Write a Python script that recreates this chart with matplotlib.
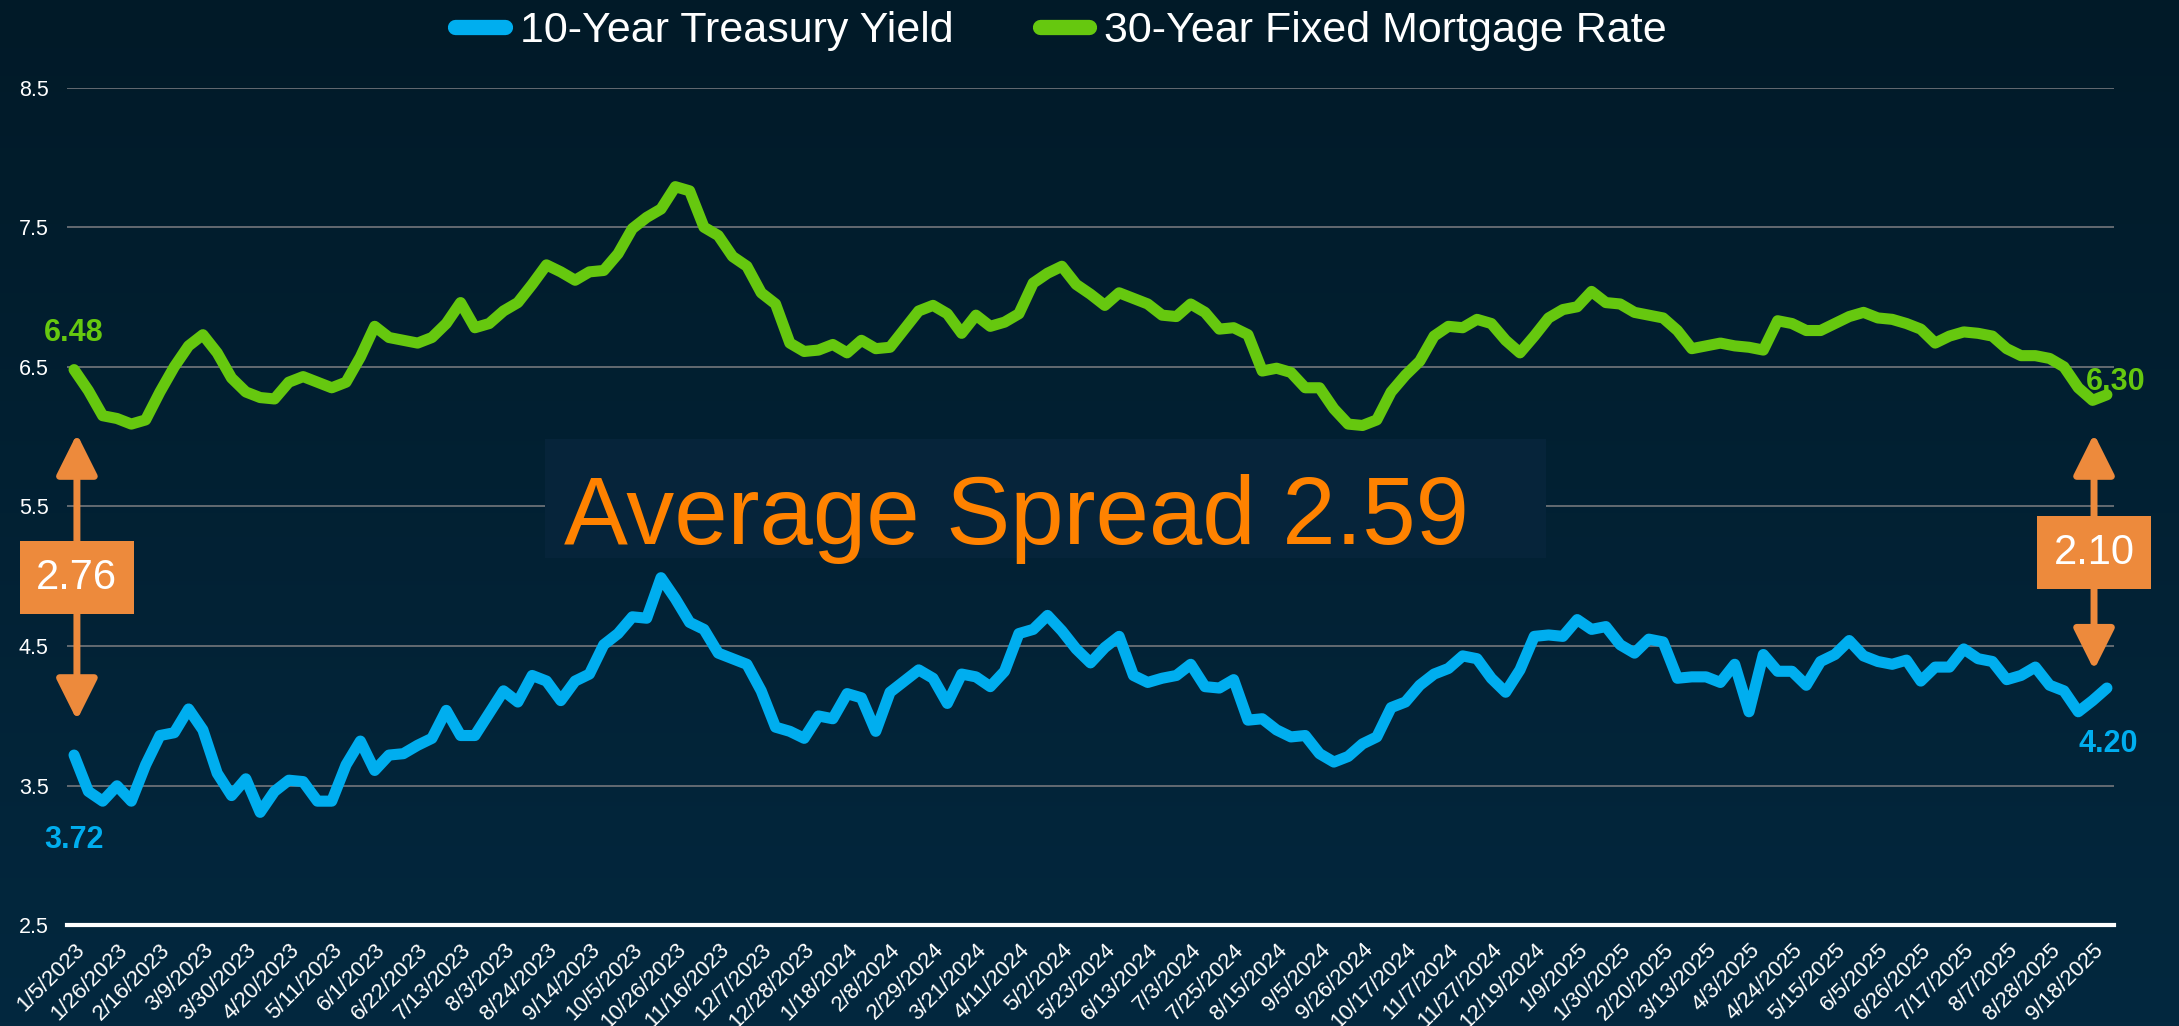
import numpy as np
import matplotlib
matplotlib.use("Agg")
import matplotlib.pyplot as plt
from matplotlib.patches import Rectangle, FancyArrowPatch

plt.rcParams["font.family"] = ["Liberation Sans", "DejaVu Sans"]

# weekly values, 1/5/2023 .. 9/25/2025
mortgage = [
    6.48, 6.33, 6.15, 6.13, 6.09, 6.12, 6.32, 6.50, 6.65, 6.73, 6.60, 6.42, 6.32,
    6.28, 6.27, 6.39, 6.43, 6.39, 6.35, 6.39, 6.57, 6.79, 6.71, 6.69, 6.67, 6.71,
    6.81, 6.96, 6.78, 6.81, 6.90, 6.96, 7.09, 7.23, 7.18, 7.12, 7.18, 7.19, 7.31,
    7.49, 7.57, 7.63, 7.79, 7.76, 7.50, 7.44, 7.29, 7.22, 7.03, 6.95, 6.67, 6.61,
    6.62, 6.66, 6.60, 6.69, 6.63, 6.64, 6.77, 6.90, 6.94, 6.88, 6.74, 6.87, 6.79,
    6.82, 6.88, 7.10, 7.17, 7.22, 7.09, 7.02, 6.94, 7.03, 6.99, 6.95, 6.87, 6.86,
    6.95, 6.89, 6.77, 6.78, 6.73, 6.47, 6.49, 6.46, 6.35, 6.35, 6.20, 6.09, 6.08,
    6.12, 6.32, 6.44, 6.54, 6.72, 6.79, 6.78, 6.84, 6.81, 6.69, 6.60, 6.72, 6.85,
    6.91, 6.93, 7.04, 6.96, 6.95, 6.89, 6.87, 6.85, 6.76, 6.63, 6.65, 6.67, 6.65,
    6.64, 6.62, 6.83, 6.81, 6.76, 6.76, 6.81, 6.86, 6.89, 6.85, 6.84, 6.81, 6.77,
    6.67, 6.72, 6.75, 6.74, 6.72, 6.63, 6.58, 6.58, 6.56, 6.50, 6.35, 6.26, 6.30,
]

treasury = [
    3.72, 3.46, 3.39, 3.50, 3.39, 3.65, 3.86, 3.88, 4.05, 3.90, 3.59, 3.43, 3.55,
    3.31, 3.46, 3.54, 3.53, 3.39, 3.39, 3.65, 3.82, 3.61, 3.72, 3.73, 3.79, 3.84,
    4.04, 3.86, 3.86, 4.02, 4.18, 4.10, 4.29, 4.25, 4.11, 4.25, 4.30, 4.51, 4.59,
    4.71, 4.70, 4.99, 4.84, 4.67, 4.62, 4.45, 4.41, 4.37, 4.18, 3.92, 3.89, 3.84,
    4.00, 3.98, 4.16, 4.13, 3.89, 4.17, 4.25, 4.33, 4.27, 4.09, 4.30, 4.28, 4.21,
    4.32, 4.59, 4.62, 4.72, 4.61, 4.48, 4.38, 4.49, 4.57, 4.29, 4.24, 4.27, 4.29,
    4.37, 4.21, 4.20, 4.26, 3.97, 3.98, 3.90, 3.85, 3.86, 3.73, 3.67, 3.71, 3.80,
    3.85, 4.06, 4.10, 4.22, 4.30, 4.34, 4.43, 4.41, 4.27, 4.17, 4.33, 4.57, 4.58,
    4.57, 4.69, 4.62, 4.64, 4.51, 4.45, 4.55, 4.53, 4.27, 4.28, 4.28, 4.24, 4.37,
    4.03, 4.44, 4.32, 4.32, 4.22, 4.39, 4.44, 4.54, 4.43, 4.39, 4.37, 4.40, 4.25,
    4.35, 4.35, 4.48, 4.41, 4.39, 4.26, 4.29, 4.35, 4.22, 4.18, 4.03, 4.11, 4.20,
]

# every third week gets a label
tick_labels = [
    "1/5/2023", "1/26/2023", "2/16/2023", "3/9/2023", "3/30/2023", "4/20/2023",
    "5/11/2023", "6/1/2023", "6/22/2023", "7/13/2023", "8/3/2023", "8/24/2023",
    "9/14/2023", "10/5/2023", "10/26/2023", "11/16/2023", "12/7/2023", "12/28/2023",
    "1/18/2024", "2/8/2024", "2/29/2024", "3/21/2024", "4/11/2024", "5/2/2024",
    "5/23/2024", "6/13/2024", "7/3/2024", "7/25/2024", "8/15/2024", "9/5/2024",
    "9/26/2024", "10/17/2024", "11/7/2024", "11/27/2024", "12/19/2024", "1/9/2025",
    "1/30/2025", "2/20/2025", "3/13/2025", "4/3/2025", "4/24/2025", "5/15/2025",
    "6/5/2025", "6/26/2025", "7/17/2025", "8/7/2025", "8/28/2025", "9/18/2025",
]

spread_start = 2.76
spread_end = 2.10
spread_avg = 2.59

blue = "#00aeef"
green = "#66c80f"
orange = "#ed8a3c"
text_orange = "#ff8200"

fig = plt.figure(figsize=(21.79, 10.26), dpi=100)

# background gradient
bg = fig.add_axes([0, 0, 1, 1], zorder=-5)
grad = np.linspace(0, 1, 256).reshape(-1, 1)
cmap = matplotlib.colors.LinearSegmentedColormap.from_list("bg", ["#011a28", "#03283f"])
bg.imshow(grad, aspect="auto", cmap=cmap, extent=[0, 1, 0, 1], origin="upper")
bg.axis("off")

ax = fig.add_axes([0.0307, 0.098, 0.9395, 0.8167])
ax.set_facecolor("none")

x = np.arange(len(mortgage))
ax.plot(x, treasury, color=blue, lw=8, solid_joinstyle="round",
        solid_capstyle="round", label="10-Year Treasury Yield", zorder=3)
ax.plot(x, mortgage, color=green, lw=8, solid_joinstyle="round",
        solid_capstyle="round", label="30-Year Fixed Mortgage Rate", zorder=3)

ax.set_xlim(-0.5, len(x) - 0.5)
ax.set_ylim(2.5, 8.5)
ax.set_yticks(np.arange(2.5, 8.6, 1.0))
ax.set_yticklabels([f"{v:.1f}" for v in np.arange(2.5, 8.6, 1.0)])
ax.set_xticks(x[::3])
ax.set_xticklabels(tick_labels, rotation=45, ha="right", va="top",
                   rotation_mode="anchor")
ax.tick_params(axis="both", length=0, colors="white")
ax.tick_params(axis="y", labelsize=15.5, pad=13)
ax.tick_params(axis="x", labelsize=16, pad=10)
ax.grid(axis="y", color="#6b7076", lw=1.3)
ax.set_axisbelow(True)
for s in ["top", "right", "left"]:
    ax.spines[s].set_visible(False)
ax.spines["bottom"].set_color("white")
ax.spines["bottom"].set_linewidth(3)
ax.spines["bottom"].set_zorder(4)

# average spread box
ax.add_patch(Rectangle((32.9, 5.13), 69.9, 0.85, facecolor="#06243a",
                       edgecolor="none", zorder=1.5))
ax.text(34.2, 5.23, f"Average Spread {spread_avg:.2f}", color=text_orange,
        fontsize=69, va="baseline", ha="left", zorder=2)

# end point labels
ax.text(0, 6.74, f"{mortgage[0]:.2f}", color=green, fontsize=22,
        fontweight="bold", ha="center", va="center")
ax.text(0, 3.11, f"{treasury[0]:.2f}", color=blue, fontsize=22,
        fontweight="bold", ha="center", va="center")
ax.text(142.6, 6.39, f"{mortgage[-1]:.2f}", color=green, fontsize=22,
        fontweight="bold", ha="center", va="center", clip_on=False)
ax.text(142.1, 3.80, f"{treasury[-1]:.2f}", color=blue, fontsize=22,
        fontweight="bold", ha="center", va="center", clip_on=False)

# spread arrows with labels
for xa, y0, y1, ylab, val in [(0.2, 3.97, 6.02, 4.99, spread_start),
                              (141.1, 4.33, 6.02, 5.17, spread_end)]:
    arr = FancyArrowPatch((xa, y0), (xa, y1),
                          arrowstyle="<|-|>,head_length=1.0,head_width=0.5",
                          mutation_scale=25, color=orange, lw=5,
                          shrinkA=0, shrinkB=0, zorder=5, clip_on=False)
    ax.add_patch(arr)
    ax.text(xa, ylab, f"{val:.2f}", color="white", fontsize=30,
            ha="center", va="center", zorder=6, clip_on=False,
            bbox=dict(boxstyle="square,pad=0.4", fc=orange, ec="none"))

leg = fig.legend(loc="upper center", bbox_to_anchor=(0.487, 1.027), ncol=2,
                 frameon=False, fontsize=31, handlelength=1.15,
                 handletextpad=0.35, columnspacing=2.0)
for t in leg.get_texts():
    t.set_color("white")
for h in leg.get_lines():
    h.set_linewidth(11)

fig.savefig("out.png", dpi=100)
